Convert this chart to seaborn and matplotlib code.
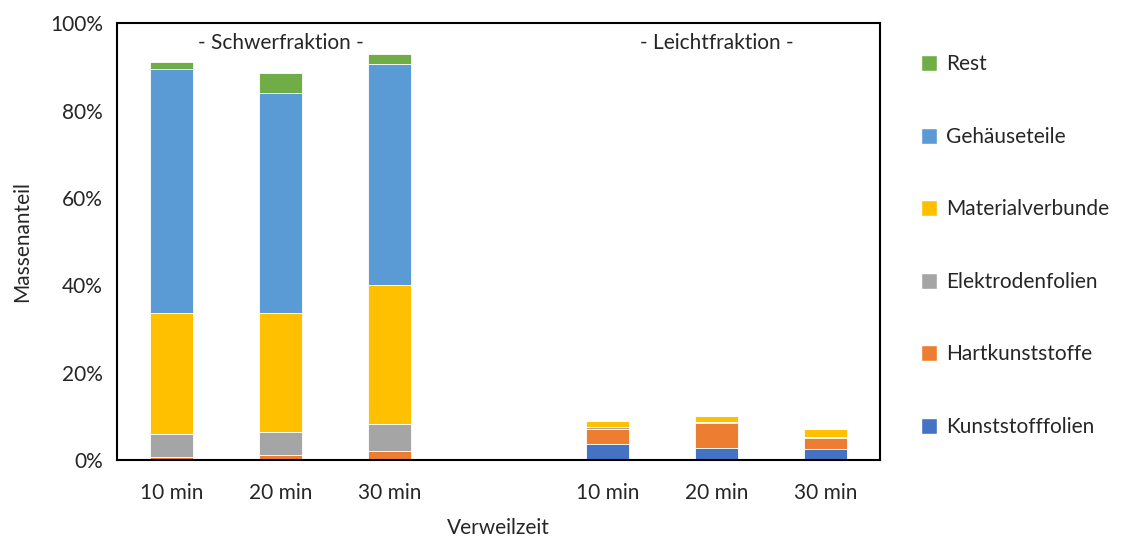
import matplotlib
matplotlib.use("Agg")
import matplotlib.pyplot as plt
from matplotlib.patches import Patch
from matplotlib.ticker import PercentFormatter
import seaborn as sns
import pandas as pd
import numpy as np

sns.set_style("white")
plt.rcParams['font.family'] = ['Lato', 'DejaVu Sans']

# bar slots (the empty slot separates the two fractions)
slots = ["S10", "S20", "S30", "gap", "L10", "L20", "L30"]
slot_labels = ["10 min", "20 min", "30 min", "", "10 min", "20 min", "30 min"]
bars = ["S10", "S20", "S30", "L10", "L20", "L30"]

# mass fractions in % (bottom to top)
kunststofffolien = [0.2, 0.3, 0.2, 3.6, 2.8, 2.6]
hartkunststoffe = [0.4, 0.8, 1.8, 3.5, 5.7, 2.5]
elektrodenfolien = [5.35, 5.4, 6.2, 0.45, 0.1, 0.1]
materialverbunde = [27.65, 27.1, 31.8, 1.45, 1.4, 1.8]
gehaeuseteile = [55.8, 50.5, 50.7, 0.0, 0.1, 0.0]
rest = [1.6, 4.5, 2.3, 0.0, 0.0, 0.0]

components = ["Kunststofffolien", "Hartkunststoffe", "Elektrodenfolien",
              "Materialverbunde", "Gehäuseteile", "Rest"]
series = [kunststofffolien, hartkunststoffe, elektrodenfolien,
          materialverbunde, gehaeuseteile, rest]
colors = ["#4472C4", "#ED7D31", "#A5A5A5", "#FFC000", "#5B9BD5", "#70AD47"]

fs = 15

fig = plt.figure(figsize=(11.26, 5.39), dpi=100)
ax = fig.add_axes([0.1039, 0.1466, 0.6776, 0.8104])

bottom = np.zeros(len(bars))
for name, vals, col in zip(components, series, colors):
    df = pd.DataFrame({"slot": bars, "value": np.array(vals) / 100})
    sns.barplot(data=df, x="slot", y="value", order=slots, color=col,
                saturation=1, bottom=bottom, width=0.4, edgecolor="white",
                linewidth=0.6, ax=ax)
    bottom = bottom + np.array(vals) / 100

ax.set_ylim(0, 1)
ax.set_xlim(-0.5, len(slots) - 0.5)
ax.yaxis.set_major_formatter(PercentFormatter(1.0, decimals=0))
ax.set_yticks(np.arange(0, 1.01, 0.2))
ax.set_xticks(range(len(slots)))
ax.set_xticklabels(slot_labels)
ax.tick_params(axis="y", labelsize=fs, length=0, pad=10)
ax.tick_params(axis="x", labelsize=fs, length=0, pad=16.5)
ax.set_xlabel("Verweilzeit", fontsize=fs, labelpad=11)
ax.set_ylabel("Massenanteil", fontsize=fs, labelpad=13)
for sp in ax.spines.values():
    sp.set_visible(True)
    sp.set_color("black")
    sp.set_linewidth(1.5)

ax.text(1, 0.955, "- Schwerfraktion -", ha="center", va="center", fontsize=fs)
ax.text(5, 0.955, "- Leichtfraktion -", ha="center", va="center", fontsize=fs)

handles = [Patch(facecolor=c, label=n) for n, c in zip(components, colors)][::-1]
fig.legend(handles=handles, loc="upper left", bbox_to_anchor=(0.801, 0.934),
           frameon=False, fontsize=fs, labelspacing=2.52, handlelength=0.8,
           handleheight=0.8, handletextpad=0.4)

fig.savefig("out.png", dpi=100)
